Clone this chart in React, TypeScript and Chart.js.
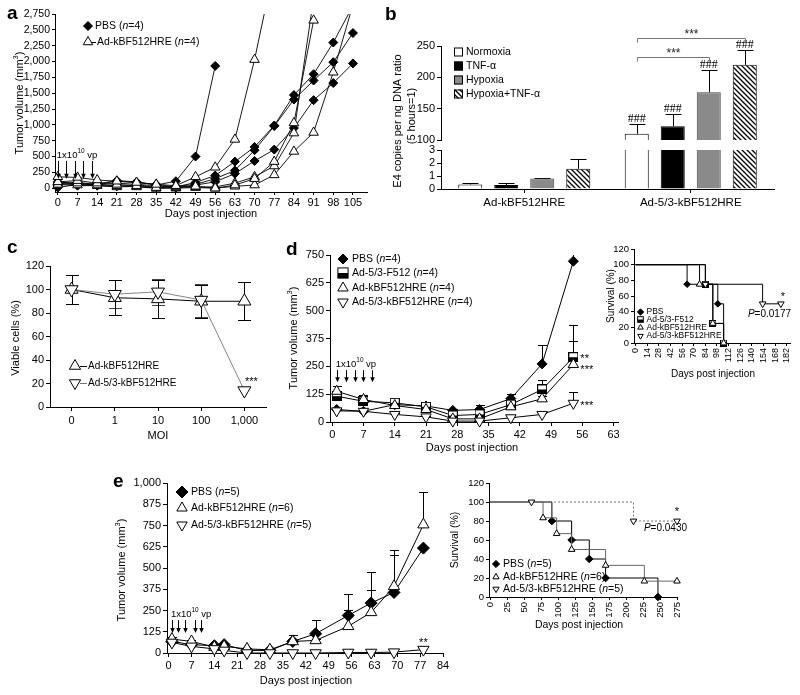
import React, { useEffect, useRef } from 'react';
import { Chart, registerables } from 'chart.js';

Chart.register(...registerables);

const FONT = '"Liberation Sans", Arial, Helvetica, sans-serif';
const SERIF = '"Liberation Serif", "Times New Roman", serif';

/* ---------------- panel a : individual mice ---------------- */
const daysA = [0, 7, 14, 21, 28, 35, 42, 49, 56, 63, 70, 77, 84, 91, 98, 105];
const pbsA1 = [10, 60, 70, 120, 100, 50, 110, 500, 1930];
const pbsA2 = [80, 90, 60, 110, 90, 60, 20, 90, 200, 420, 650, 990, 1470, 1800, 2300, 2880];
const pbsA3 = [60, 40, 40, 30, 50, 20, 30, 60, 150, 280, 600, 980, 1400, 1700, 1990, 2450];
const pbsA4 = [100, 70, 50, 80, 60, 40, 10, 50, 100, 230, 430, 610, 950, 1390, 1660, 1970];
const kbfA1 = [180, 170, 130, 110, 90, 60, 40, 180, 330, 770, 2030, 3500];
const kbfA2 = [100, 120, 80, 60, 40, 10, 20, 30, 0, 50, 150, 420, 1030, 2650];
const kbfA3 = [60, 80, 50, 40, 20, 0, 10, 20, 20, 80, 180, 350, 870, 3000];
const kbfA4 = [80, 50, 40, 20, 30, 0, 0, 10, 0, 30, 50, 210, 580, 880, 1830, 2900];
const injDaysA = [0, 3, 6, 9, 12];
const yTicksA = [0, 250, 500, 750, 1000, 1250, 1500, 1750, 2000, 2250, 2500, 2750];

/* ---------------- panel b : E4 copies ---------------- */
const groupsB = ['Ad-kBF512HRE', 'Ad-5/3-kBF512HRE'];
const normoxiaB = [0.35, 110];
const normoxiaErrB = [0.1, 15];
const tnfB = [0.3, 122];
const tnfErrB = [0.2, 19];
const hypoxiaB = [0.8, 176];
const hypoxiaErrB = [0.06, 35];
const hypTnfB = [1.55, 220];
const hypTnfErrB = [0.75, 24];
const upperTicksB = [100, 150, 200, 250];
const lowerTicksB = [0, 1, 2, 3];

/* ---------------- panel c : viability ---------------- */
const moiLabels = ['0', '1', '10', '100', '1,000'];
const viableKbf = [100, 93, 92, 90, 90];
const viableKbfErr = [12, 15, 16, 14, 16];
const viableAd53 = [100, 96, 98, 91, 14];
const viableAd53Err = [12, 12, 11, 14, 0];
const yTicksC = [0, 20, 40, 60, 80, 100, 120];

/* ---------------- panel d : tumor volume ---------------- */
const daysD = [1, 7, 14, 21, 27, 33, 40, 47, 54];
const pbsD = [56, 48, 78, 72, 52, 56, 105, 261, 722];
const pbsDErr = [8, 10, 12, 15, 8, 20, 21, 87, 40];
const f512D = [116, 93, 86, 68, 29, 34, 78, 146, 291];
const f512DErr = [10, 12, 8, 10, 5, 5, 10, 42, 146];
const kbfD = [138, 101, 74, 56, 14, 14, 68, 104, 258];
const kbfDErr = [22, 22, 8, 8, 5, 5, 10, 15, 104];
const ad53D = [50, 48, 34, 23, 4, 4, 19, 34, 84];
const ad53DErr = [5, 5, 5, 5, 2, 2, 3, 5, 50];
const injDaysD = [1, 3, 5, 7, 9];
const xTicksD = [0, 7, 14, 21, 28, 35, 42, 49, 56, 63];
const yTicksD = [0, 125, 250, 375, 500, 625, 750];

/* ---------------- panel d : survival ---------------- */
const survXTicksD = [0, 14, 28, 42, 56, 70, 84, 98, 112, 126, 140, 154, 168, 182];
const survYTicks = [0, 20, 40, 60, 80, 100, 120];
const survPbsDx = [0, 62, 99, 106];
const survPbsDy = [100, 75, 50, 0];
const survF512Dx = [0, 84, 93, 106];
const survF512Dy = [100, 75, 25, 0];
const survKbfDx = [0, 77, 93, 106];
const survKbfDy = [100, 75, 25, 0];
const survAd53Dx = [0, 84, 153, 175];
const survAd53Dy = [100, 75, 50, 50];

/* ---------------- panel e : tumor volume ---------------- */
const daysE = [1, 7, 14, 17, 24, 31, 38, 45, 55, 62, 69, 78];
const pbsE = [68, 49, 43, 49, 15, 15, 68, 113, 221, 294, 356, 617];
const pbsEErr = [10, 10, 8, 8, 5, 5, 35, 79, 128, 180, 222, 0];
const kbfE = [82, 68, 35, 39, 24, 19, 68, 74, 157, 239, 392, 755];
const kbfEErr = [10, 10, 8, 8, 5, 5, 40, 10, 98, 133, 216, 195];
const ad53E = [62, 39, 24, 15, 0, 0, 0, 0, 3, 3, 5, 20];
const injDaysE = [1, 3, 5, 8, 10];
const xTicksE = [0, 7, 14, 21, 28, 35, 42, 49, 56, 63, 70, 77, 84];
const yTicksE = [0, 125, 250, 375, 500, 625, 750, 875, 1000];

/* ---------------- panel e : survival ---------------- */
const survXTicksE = [0, 25, 50, 75, 100, 125, 150, 175, 200, 225, 250, 275];
const survPbsEx = [0, 91, 120, 146, 170, 247];
const survPbsEy = [100, 80, 60, 40, 20, 0];
const survKbfEx = [0, 78, 98, 120, 170, 227, 275];
const survKbfEy = [100, 83.3, 66.7, 50, 33.3, 16.7, 16.7];
const survAd53Ex = [0, 61, 211, 275];
const survAd53Ey = [100, 100, 80, 80];

/* ================= layout helpers ================= */
type Area = { l: number; t: number; r: number; b: number };
const PL = 70, PT = 26, PR = 40, PB = 62;
const AREAS: Record<string, Area> = {
  a: { l: 55, t: 14, r: 367, b: 192 },
  bu: { l: 441, t: 46, r: 774, b: 140 },
  bl: { l: 441, t: 150, r: 774, b: 189 },
  c: { l: 50, t: 266, r: 266, b: 407 },
  d: { l: 330, t: 255, r: 618, b: 422 },
  ds: { l: 634, t: 249, r: 790, b: 343 },
  e: { l: 167, t: 483, r: 443, b: 653 },
  es: { l: 489, t: 483, r: 677, b: 597 },
};
const boxOf = (a: Area) => ({ left: a.l - PL, top: a.t - PT, width: a.r - a.l + PL + PR, height: a.b - a.t + PT + PB });

const fmt = (v: number) => String(v).replace(/\B(?=(\d{3})+(?!\d))/g, ',');
const ptsOf = (xs: number[], ys: number[]) =>
  xs.map((x, i) => ({ x, y: ys[i] })).filter((p) => p.y !== undefined && p.y !== null);

function linAxis(min: number, max: number, ticks: number[], o: any = {}) {
  return {
    type: 'linear', min, max,
    afterBuildTicks: (s: any) => { s.ticks = ticks.map((v) => ({ value: v })); },
    grid: { display: true, drawOnChartArea: false, drawTicks: true, tickLength: o.tl ?? 4, color: '#000', lineWidth: 1 },
    border: { display: true, color: '#000', width: 1 },
    ticks: {
      color: '#000', font: { family: FONT, size: o.size ?? 11 }, padding: o.pad ?? 2, autoSkip: false,
      maxRotation: o.rot ?? 0, minRotation: o.rot ?? 0, callback: (v: number) => fmt(v),
    },
  };
}
function catAxis(o: any = {}) {
  return {
    type: 'category', offset: true,
    grid: { display: !o.hide, offset: false, drawOnChartArea: false, drawTicks: true, tickLength: 4, color: '#000' },
    border: { display: !o.hide, color: '#000', width: 1 },
    ticks: { display: !o.hide, color: '#000', font: { family: FONT, size: o.size ?? 11 }, padding: o.pad ?? 2, autoSkip: false, maxRotation: 0, minRotation: 0 },
  };
}

type Seg = { t: string; it: boolean; sup: boolean };
function parse(s: string): Seg[] {
  const out: Seg[] = []; let it = false, sup = false, buf = '';
  const flush = () => { if (buf) out.push({ t: buf, it, sup }); buf = ''; };
  for (const ch of s) {
    if (ch === '_') { flush(); it = !it; } else if (ch === '^') { flush(); sup = !sup; } else buf += ch;
  }
  flush();
  return out;
}
function rich(ctx: CanvasRenderingContext2D, s: string, x: number, y: number, size: number, align = 'left', family = FONT, color = '#000') {
  const segs = parse(s);
  const fontOf = (g: Seg) => `${g.it ? 'italic ' : ''}${g.sup ? size * 0.68 : size}px ${family}`;
  let total = 0;
  segs.forEach((g) => { ctx.font = fontOf(g); total += ctx.measureText(g.t).width; });
  let cx = align === 'left' ? x : align === 'center' ? x - total / 2 : x - total;
  ctx.save();
  ctx.fillStyle = color; ctx.textBaseline = 'middle'; ctx.textAlign = 'left';
  segs.forEach((g) => { ctx.font = fontOf(g); ctx.fillText(g.t, cx, g.sup ? y - size * 0.38 : y); cx += ctx.measureText(g.t).width; });
  ctx.restore();
}
function vtext(ctx: CanvasRenderingContext2D, s: string, x: number, y: number, size: number) {
  ctx.save(); ctx.translate(x, y); ctx.rotate(-Math.PI / 2); rich(ctx, s, 0, 0, size, 'center'); ctx.restore();
}
function drawMarker(ctx: CanvasRenderingContext2D, kind: string, x: number, y: number, r: number) {
  ctx.save();
  ctx.lineWidth = 1; ctx.strokeStyle = '#000';
  ctx.beginPath();
  if (kind === 'diamond') {
    ctx.moveTo(x - r, y); ctx.lineTo(x, y - r); ctx.lineTo(x + r, y); ctx.lineTo(x, y + r); ctx.closePath();
    ctx.fillStyle = '#000'; ctx.fill(); ctx.stroke();
  } else if (kind === 'up' || kind === 'down') {
    const a0 = kind === 'up' ? 0 : Math.PI;
    for (let k = 0; k < 3; k++) {
      const a = a0 + (k * 2 * Math.PI) / 3;
      const px = x + Math.sin(a) * r, py = y - Math.cos(a) * r;
      if (k === 0) ctx.moveTo(px, py); else ctx.lineTo(px, py);
    }
    ctx.closePath(); ctx.fillStyle = '#fff'; ctx.fill(); ctx.stroke();
  } else if (kind === 'halfsq') {
    const s = r * 0.85;
    ctx.fillStyle = '#fff'; ctx.fillRect(x - s, y - s, 2 * s, 2 * s);
    ctx.fillStyle = '#000'; ctx.fillRect(x - s, y, 2 * s, s);
    ctx.strokeRect(x - s, y - s, 2 * s, 2 * s);
  }
  ctx.restore();
}
function halfSqCanvas(size: number) {
  const c = document.createElement('canvas'); c.width = size; c.height = size;
  const g = c.getContext('2d')!;
  g.fillStyle = '#fff'; g.fillRect(0.5, 0.5, size - 1, size - 1);
  g.fillStyle = '#000'; g.fillRect(0.5, size / 2, size - 1, size / 2 - 0.5);
  g.strokeStyle = '#000'; g.lineWidth = 1; g.strokeRect(0.5, 0.5, size - 1, size - 1);
  return c;
}
function makeHatch() {
  const s = 5; const c = document.createElement('canvas'); c.width = s; c.height = s;
  const g = c.getContext('2d')!;
  g.fillStyle = '#fff'; g.fillRect(0, 0, s, s);
  g.strokeStyle = '#000'; g.lineWidth = 1.3;
  g.beginPath(); g.moveTo(0, 0); g.lineTo(s, s); g.moveTo(-1, s - 1); g.lineTo(1, s + 1); g.moveTo(s - 1, -1); g.lineTo(s + 1, 1); g.stroke();
  return g.createPattern(c, 'repeat');
}
function arrow(ctx: CanvasRenderingContext2D, x: number, y1: number, y2: number) {
  const xx = Math.round(x) + 0.5;
  ctx.save(); ctx.strokeStyle = '#000'; ctx.fillStyle = '#000'; ctx.lineWidth = 1;
  ctx.beginPath(); ctx.moveTo(xx, y1); ctx.lineTo(xx, y2 - 3); ctx.stroke();
  ctx.beginPath(); ctx.moveTo(xx - 2.3, y2 - 5); ctx.lineTo(xx + 2.3, y2 - 5); ctx.lineTo(xx, y2); ctx.closePath(); ctx.fill();
  ctx.restore();
}
function hline(ctx: CanvasRenderingContext2D, x1: number, x2: number, y: number, color = '#000') {
  ctx.save(); ctx.strokeStyle = color; ctx.lineWidth = 1; ctx.beginPath(); ctx.moveTo(x1, y); ctx.lineTo(x2, y); ctx.stroke(); ctx.restore();
}
function stars(ctx: CanvasRenderingContext2D, s: string, x: number, y: number, size: number, align = 'left', color = '#000') {
  rich(ctx, s, x, y + size * 0.2, size, align, FONT, color);
}

function lineDs(data: any[], kind: string, o: any = {}) {
  const r = o.r ?? 5;
  return {
    data, showLine: true, fill: false, tension: 0,
    borderColor: o.color ?? '#000', borderWidth: o.lw ?? 1, borderDash: o.dash ?? [],
    stepped: o.stepped ?? false,
    pointStyle: kind === 'diamond' ? 'rectRot' : kind === 'halfsq' ? o.img : 'triangle',
    pointRotation: kind === 'down' ? 180 : 0,
    pointRadius: o.skipFirst ? (c: any) => (c.dataIndex === 0 ? 0 : r) : r,
    pointBackgroundColor: kind === 'diamond' ? '#000' : '#fff',
    pointBorderColor: '#000', pointBorderWidth: 1,
    clip: o.clip ?? 30,
  };
}
function barDs(data: number[], bg: any, border = '#000') {
  return { data, backgroundColor: bg, borderColor: border, borderWidth: 1, borderSkipped: 'start', categoryPercentage: 0.865, barPercentage: 0.667, clip: 0 };
}

type Helper = { X: (v: number) => number; Y: (v: number) => number; el: (i: number, j: number) => { x: number; y: number }; box: any; chart: any };
type Deco = (ctx: CanvasRenderingContext2D, h: Helper) => void;

function makeChart(canvas: HTMLCanvasElement, area: Area, type: string, data: any, xAxis: any, yAxis: any, under?: Deco, over?: Deco) {
  const box = boxOf(area);
  xAxis.afterFit = (s: any) => { s.height = PB; };
  yAxis.afterFit = (s: any) => { s.width = PL; };
  const helper = (chart: any): Helper => ({
    X: (v) => chart.scales.x.getPixelForValue(v) + box.left,
    Y: (v) => chart.scales.y.getPixelForValue(v) + box.top,
    el: (i, j) => { const e = chart.getDatasetMeta(i).data[j]; return { x: e.x + box.left, y: e.y + box.top }; },
    box, chart,
  });
  const plugin = {
    id: 'deco',
    beforeDatasetsDraw(chart: any) {
      if (!under) return;
      const ctx = chart.ctx; ctx.save(); ctx.translate(-box.left, -box.top); under(ctx, helper(chart)); ctx.restore();
    },
    afterDraw(chart: any) {
      if (!over) return;
      const ctx = chart.ctx; ctx.save(); ctx.translate(-box.left, -box.top); over(ctx, helper(chart)); ctx.restore();
    },
  };
  return new Chart(canvas, {
    type: type as any,
    data,
    options: {
      responsive: false, animation: false, events: [],
      layout: { padding: { left: 0, top: PT, right: PR, bottom: 0 } },
      plugins: { legend: { display: false }, tooltip: { enabled: false }, title: { display: false } },
      scales: { x: xAxis, y: yAxis },
    } as any,
    plugins: [plugin],
  });
}

function errBars(ctx: CanvasRenderingContext2D, h: Helper, ds: number, vals: number[], errs: number[], both: boolean, cap: number, color = '#000') {
  const a = h.chart.chartArea;
  ctx.save();
  ctx.beginPath();
  ctx.rect(a.left + h.box.left - 30, a.top + h.box.top, a.right - a.left + 60, a.bottom - a.top);
  ctx.clip();
  ctx.strokeStyle = color; ctx.lineWidth = 1;
  vals.forEach((v, j) => {
    const e = errs[j];
    if (!e) return;
    const x = Math.round(h.el(ds, j).x) + 0.5;
    const yt = Math.round(h.Y(v + e)) + 0.5;
    const yb = both ? Math.round(h.Y(v - e)) + 0.5 : h.Y(v);
    ctx.beginPath();
    ctx.moveTo(x, yb); ctx.lineTo(x, yt);
    ctx.moveTo(x - cap / 2, yt); ctx.lineTo(x + cap / 2, yt);
    if (both) { ctx.moveTo(x - cap / 2, yb); ctx.lineTo(x + cap / 2, yb); }
    ctx.stroke();
  });
  ctx.restore();
}

/* ================= panel builders ================= */
function buildA(cv: HTMLCanvasElement) {
  const clipA = { left: 20, top: 0, right: 20, bottom: 20 };
  const tri = [kbfA1, kbfA2, kbfA3, kbfA4].map((v) => lineDs(ptsOf(daysA, v), 'up', { r: 5.5, lw: 0.9, clip: clipA }));
  const dia = [pbsA1, pbsA2, pbsA3, pbsA4].map((v) => lineDs(ptsOf(daysA, v), 'diamond', { r: 4.5, lw: 0.9, clip: clipA }));
  return makeChart(cv, AREAS.a, 'line', { datasets: [...tri, ...dia] },
    linAxis(-1, 110, daysA, { tl: 3, pad: 1 }), linAxis(-60, 2750, yTicksA, { tl: 3, size: 10.5 }), undefined,
    (ctx, h) => {
      drawMarker(ctx, 'diamond', 88, 26, 4.5);
      rich(ctx, 'PBS (_n_=4)', 95, 26, 10.5);
      drawMarker(ctx, 'up', 88, 42, 5.5);
      hline(ctx, 92, 96, 42.5);
      rich(ctx, 'Ad-kBF512HRE (_n_=4)', 97, 42, 10.5);
      rich(ctx, '1x10^10^ vp', h.X(injDaysA[0]) - 1, 155, 9.5);
      injDaysA.forEach((d) => arrow(ctx, h.X(d), h.Y(430), h.Y(150)));
      rich(ctx, 'Days post injection', 211, 214, 11, 'center');
      vtext(ctx, 'Tumor volume (mm^3^)', 20, 103, 11);
    });
}

function bDatasets(hatch: any) {
  return [barDs(normoxiaB, '#fff'), barDs(tnfB, '#000'), barDs(hypoxiaB, '#8a8a8a', '#444'), barDs(hypTnfB, hatch)];
}
const bVals = [normoxiaB, tnfB, hypoxiaB, hypTnfB];
const bErrs = [normoxiaErrB, tnfErrB, hypoxiaErrB, hypTnfErrB];
const bErrUnder: Deco = (ctx, h) => { bVals.forEach((v, i) => errBars(ctx, h, i, v, bErrs[i], false, 16)); };

function buildBU(cv: HTMLCanvasElement, hatch: any) {
  return makeChart(cv, AREAS.bu, 'bar', { labels: groupsB, datasets: bDatasets(hatch) },
    catAxis({ hide: true }), linAxis(100, 250, upperTicksB), bErrUnder,
    (ctx, h) => {
      const rows = [['#fff', 'Normoxia'], ['#000', 'TNF-α'], ['#8a8a8a', 'Hypoxia'], [hatch, 'Hypoxia+TNF-α']];
      const ys = [52, 66, 80, 94];
      rows.forEach((r, i) => {
        ctx.save(); ctx.fillStyle = r[0] as any; ctx.fillRect(454, ys[i] - 4.5, 9, 9);
        ctx.strokeStyle = '#000'; ctx.lineWidth = 1; ctx.strokeRect(454.5, ys[i] - 4, 8, 8); ctx.restore();
        rich(ctx, r[1] as string, 466, ys[i], 10.5);
      });
      bVals.forEach((v, i) => {
        const e = h.el(i, 1);
        const capY = h.Y(v[1] + bErrs[i][1]);
        ctx.save(); ctx.font = `12px ${SERIF}`; ctx.textAlign = 'center'; ctx.textBaseline = 'alphabetic'; ctx.fillStyle = '#000';
        ctx.fillText('###', e.x, capY - 2); ctx.restore();
      });
      const bracket = (i1: number, i2: number, val: number) => {
        const x1 = Math.round(h.el(i1, 1).x) + 0.5, x2 = Math.round(h.el(i2, 1).x) + 0.5, y = Math.round(h.Y(val)) + 0.5;
        ctx.save(); ctx.strokeStyle = '#777'; ctx.lineWidth = 1; ctx.beginPath();
        ctx.moveTo(x1, y + 4); ctx.lineTo(x1, y); ctx.lineTo(x2, y); ctx.lineTo(x2, y + 4); ctx.stroke(); ctx.restore();
        stars(ctx, '***', (x1 + x2) / 2, y - 6, 12, 'center', '#222');
      };
      bracket(0, 2, 232);
      bracket(0, 3, 262);
      vtext(ctx, 'E4 copies per ng DNA ratio', 398, 121, 11);
      vtext(ctx, '(5 hours=1)', 412, 116, 11);
    });
}
function buildBL(cv: HTMLCanvasElement, hatch: any) {
  return makeChart(cv, AREAS.bl, 'bar', { labels: groupsB, datasets: bDatasets(hatch) },
    catAxis({ size: 11.5, pad: 3 }), linAxis(0, 3, lowerTicksB), bErrUnder);
}

function buildC(cv: HTMLCanvasElement) {
  return makeChart(cv, AREAS.c, 'line', {
    labels: moiLabels,
    datasets: [lineDs(viableAd53, 'down', { r: 7.5, color: '#777', lw: 0.9 }), lineDs(viableKbf, 'up', { r: 7.5 })],
  }, catAxis({ pad: 3 }), linAxis(0, 120, yTicksC),
    (ctx, h) => {
      errBars(ctx, h, 0, viableAd53, viableAd53Err, true, 13, '#444');
      errBars(ctx, h, 1, viableKbf, viableKbfErr, true, 13, '#000');
    },
    (ctx, h) => {
      drawMarker(ctx, 'up', 75, 366, 6.5);
      hline(ctx, 80, 87, 366.5);
      rich(ctx, 'Ad-kBF512HRE', 88, 366, 10);
      drawMarker(ctx, 'down', 75, 383, 6.5);
      hline(ctx, 80, 87, 383.5, '#777');
      rich(ctx, 'Ad-5/3-kBF512HRE', 88, 383, 10);
      stars(ctx, '***', h.X(4) + 7, h.Y(viableAd53[4]) - 11, 11, 'center');
      rich(ctx, 'MOI', 158, 436, 11, 'center');
      vtext(ctx, 'Viable cells (%)', 16, 338, 11);
    });
}

function buildD(cv: HTMLCanvasElement, sq10: any) {
  return makeChart(cv, AREAS.d, 'line', {
    datasets: [
      lineDs(ptsOf(daysD, ad53D), 'down', { r: 6 }),
      lineDs(ptsOf(daysD, kbfD), 'up', { r: 6 }),
      lineDs(ptsOf(daysD, f512D), 'halfsq', { r: 5, img: sq10 }),
      lineDs(ptsOf(daysD, pbsD), 'diamond', { r: 5 }),
    ],
  }, linAxis(-0.5, 64, xTicksD, { pad: 2 }), linAxis(0, 750, yTicksD),
    (ctx, h) => {
      errBars(ctx, h, 0, ad53D, ad53DErr, false, 9);
      errBars(ctx, h, 1, kbfD, kbfDErr, false, 9);
      errBars(ctx, h, 2, f512D, f512DErr, false, 9);
      errBars(ctx, h, 3, pbsD, pbsDErr, false, 9);
    },
    (ctx, h) => {
      const ys = [259, 273, 288, 302];
      const kinds = ['diamond', 'halfsq', 'up', 'down'];
      const labels = ['PBS (_n_=4)', 'Ad-5/3-F512 (_n_=4)', 'Ad-kBF512HRE (_n_=4)', 'Ad-5/3-kBF512HRE (_n_=4)'];
      kinds.forEach((k, i) => { drawMarker(ctx, k, 343, ys[i], k === 'diamond' ? 5 : 6); rich(ctx, labels[i], 352, ys[i], 10.5); });
      rich(ctx, '1x10^10^ vp', h.X(injDaysD[0]) - 1, 364, 9.5);
      injDaysD.forEach((d) => arrow(ctx, h.X(d), h.Y(233), h.Y(178)));
      const last = daysD.length - 1, sx = h.X(daysD[last]) + 7;
      stars(ctx, '**', sx, h.Y(f512D[last]), 11);
      stars(ctx, '***', sx, h.Y(kbfD[last]) + 3, 11);
      stars(ctx, '***', sx, h.Y(ad53D[last]), 11);
      rich(ctx, 'Days post injection', 472, 448, 11, 'center');
      vtext(ctx, 'Tumor volume (mm^3^)', 294, 338, 11);
    });
}

function buildDS(cv: HTMLCanvasElement, sq7: any) {
  const o = { stepped: 'before', skipFirst: true, r: 3.3, lw: 1 };
  return makeChart(cv, AREAS.ds, 'line', {
    datasets: [
      lineDs(ptsOf(survAd53Dx, survAd53Dy), 'down', { ...o, r: 3.8 }),
      lineDs(ptsOf(survKbfDx, survKbfDy), 'up', { ...o, r: 3.8 }),
      lineDs(ptsOf(survF512Dx, survF512Dy), 'halfsq', { ...o, img: sq7 }),
      lineDs(ptsOf(survPbsDx, survPbsDy), 'diamond', o),
    ],
  }, linAxis(-2, 186, survXTicksD, { size: 9, rot: 90, tl: 3 }), linAxis(0, 120, survYTicks, { size: 9.5, tl: 3 }), undefined,
    (ctx, h) => {
      const ys = [312, 319.5, 327.5, 336];
      const kinds = ['diamond', 'halfsq', 'up', 'down'];
      const labels = ['PBS', 'Ad-5/3-F512', 'Ad-kBF512HRE', 'Ad-5/3-kBF512HRE'];
      kinds.forEach((k, i) => { drawMarker(ctx, k, 640.5, ys[i], k === 'halfsq' ? 3.3 : 3.2); rich(ctx, labels[i], 646.5, ys[i], 8.5); });
      const lx = survAd53Dx[survAd53Dx.length - 1], ly = survAd53Dy[survAd53Dy.length - 1];
      stars(ctx, '*', h.X(lx) + 2, h.Y(ly) - 9, 11, 'center');
      rich(ctx, '_P_=0.0177', 791, h.Y(ly) + 10, 10, 'right');
      rich(ctx, 'Days post injection', 713, 374, 10, 'center');
      vtext(ctx, 'Survival (%)', 611, 296, 10);
    });
}

function buildE(cv: HTMLCanvasElement) {
  return makeChart(cv, AREAS.e, 'line', {
    datasets: [
      lineDs(ptsOf(daysE, ad53E), 'down', { r: 6.5 }),
      lineDs(ptsOf(daysE, kbfE), 'up', { r: 6.5 }),
      lineDs(ptsOf(daysE, pbsE), 'diamond', { r: 6 }),
    ],
  }, linAxis(-0.5, 84, xTicksE, { pad: 2 }), linAxis(0, 1000, yTicksE),
    (ctx, h) => {
      errBars(ctx, h, 1, kbfE, kbfEErr, false, 9);
      errBars(ctx, h, 2, pbsE, pbsEErr, false, 9);
    },
    (ctx, h) => {
      const ys = [492, 508, 525];
      const kinds = ['diamond', 'up', 'down'];
      const labels = ['PBS (_n_=5)', 'Ad-kBF512HRE (_n_=6)', 'Ad-5/3-kBF512HRE (_n_=5)'];
      kinds.forEach((k, i) => { drawMarker(ctx, k, 182, ys[i], 6); rich(ctx, labels[i], 191, ys[i], 10.5); });
      rich(ctx, '1x10^10^ vp', h.X(injDaysE[0]) - 1, 614, 9.5);
      injDaysE.forEach((d) => arrow(ctx, h.X(d), h.Y(194), h.Y(118)));
      const last = daysE.length - 1;
      stars(ctx, '**', h.X(daysE[last]), h.Y(ad53E[last]) - 9, 11, 'center');
      rich(ctx, 'Days post injection', 306, 681, 11, 'center');
      vtext(ctx, 'Tumor volume (mm^3^)', 122, 570, 11);
    });
}

function buildES(cv: HTMLCanvasElement) {
  const o = { stepped: 'before', skipFirst: true, r: 3.8 };
  return makeChart(cv, AREAS.es, 'line', {
    datasets: [
      lineDs(ptsOf(survAd53Ex, survAd53Ey), 'down', { ...o, color: '#777', dash: [2, 2] }),
      lineDs(ptsOf(survKbfEx, survKbfEy), 'up', { ...o, color: '#666' }),
      lineDs(ptsOf(survPbsEx, survPbsEy), 'diamond', { ...o, r: 3.8 }),
    ],
  }, linAxis(-1.5, 275, survXTicksE, { size: 9.5, rot: 90, tl: 3 }), linAxis(0, 120, survYTicks, { size: 9.5, tl: 3 }), undefined,
    (ctx, h) => {
      const ys = [564, 577, 589];
      const kinds = ['diamond', 'up', 'down'];
      const labels = ['PBS (_n_=5)', 'Ad-kBF512HRE (_n_=6)', 'Ad-5/3-kBF512HRE (_n_=5)'];
      kinds.forEach((k, i) => { drawMarker(ctx, k, 496, ys[i], 3.6); rich(ctx, labels[i], 503, ys[i], 10.5); });
      const lx = survAd53Ex[survAd53Ex.length - 1], ly = survAd53Ey[survAd53Ey.length - 1];
      stars(ctx, '*', h.X(lx), h.Y(ly) - 11, 11, 'center');
      rich(ctx, '_P_=0.0430', 687, h.Y(ly) + 7, 10, 'right');
      rich(ctx, 'Days post injection', 579, 625, 10.5, 'center');
      vtext(ctx, 'Survival (%)', 455, 540, 10.5);
    });
}

const PANELS = ['a', 'bu', 'bl', 'c', 'd', 'ds', 'e', 'es'];
const LETTERS: [string, number, number][] = [['a', 7, 3], ['b', 385, 4], ['c', 7, 237], ['d', 286, 239], ['e', 113, 471]];

export default function App() {
  const refs = useRef<Record<string, HTMLCanvasElement | null>>({});
  useEffect(() => {
    Chart.defaults.font.family = FONT;
    Chart.defaults.color = '#000';
    const hatch = makeHatch();
    const sq10 = halfSqCanvas(10);
    const sq7 = halfSqCanvas(7);
    const r = refs.current;
    const charts = [
      buildA(r.a!), buildBU(r.bu!, hatch), buildBL(r.bl!, hatch), buildC(r.c!),
      buildD(r.d!, sq10), buildDS(r.ds!, sq7), buildE(r.e!), buildES(r.es!),
    ];
    return () => charts.forEach((c) => c.destroy());
  }, []);
  return (
    <div style={{ position: 'absolute', left: 0, top: 0, width: 800, height: 695, background: '#fff', overflow: 'hidden' }}>
      {PANELS.map((p) => {
        const b = boxOf(AREAS[p]);
        return (
          <canvas key={p} ref={(el) => { refs.current[p] = el; }} width={b.width} height={b.height}
            style={{ position: 'absolute', left: b.left, top: b.top, width: b.width, height: b.height }} />
        );
      })}
      {LETTERS.map(([ch, x, y]) => (
        <div key={ch} style={{ position: 'absolute', left: x, top: y, font: `bold 19px ${FONT}`, lineHeight: '19px', color: '#000' }}>{ch}</div>
      ))}
    </div>
  );
}
